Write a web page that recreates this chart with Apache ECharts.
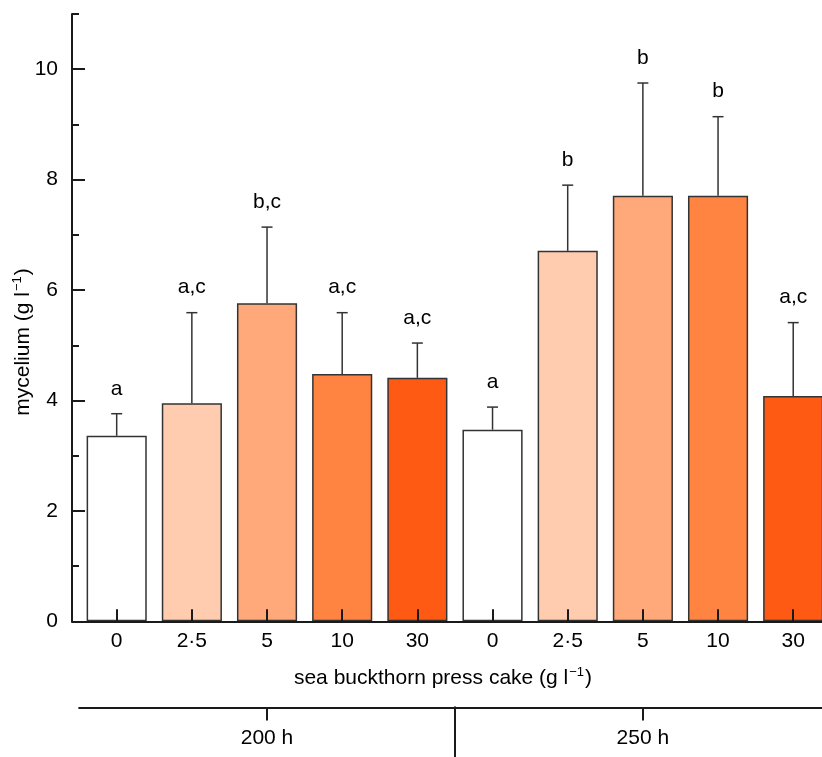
<!DOCTYPE html>
<html>
<head>
<meta charset="utf-8">
<script src="https://cdn.jsdelivr.net/npm/echarts@6/dist/echarts.min.js"></script>
<style>html,body{margin:0;padding:0;background:#fff}#c{width:822px;height:757px}</style>
</head>
<body>
<div id="c"></div>
<script>
// ---- data ----
var categories = ['0', '2·5', '5', '10', '30', '0', '2·5', '5', '10', '30'];
var means = [3.36, 3.95, 5.76, 4.48, 4.41, 3.47, 6.71, 7.71, 7.71, 4.08];
var sds = [0.40, 1.64, 1.38, 1.11, 0.63, 0.41, 1.19, 2.04, 1.43, 1.33];
var letters = ['a', 'a,c', 'b,c', 'a,c', 'a,c', 'a', 'b', 'b', 'b', 'a,c'];
var barColors = ['#FFFFFF', '#FFCCB0', '#FFA97A', '#FF8442', '#FF5A14',
                 '#FFFFFF', '#FFCCB0', '#FFA97A', '#FF8442', '#FF5A14'];
var groups = ['200 h', '250 h'];
var yTicks = [0, 2, 4, 6, 8, 10];
var yMinorTicks = [1, 3, 5, 7, 9, 11];
var yMax = 11;

var FONT = 'Liberation Sans, Arial, Helvetica, sans-serif';
var FS = 21;
var AX = '#1a1a1a';

var chart = echarts.init(document.getElementById('c'), null, {renderer: 'canvas'});

var barData = means.map(function (v, i) {
  return {value: v, itemStyle: {color: barColors[i]}};
});
var errData = means.map(function (v, i) { return [i, v, v + sds[i]]; });

var option = {
  backgroundColor: '#fff',
  animation: false,
  textStyle: {fontFamily: FONT},
  grid: [
    {left: 79.1, width: 751.7, top: 14, bottom: 135.7, outerBoundsMode: 'none', containLabel: false},
    {left: 72, right: 8, top: 14, bottom: 135.7, outerBoundsMode: 'none', containLabel: false},
    {left: 79.1, width: 751.7, top: 706.5, bottom: 49.5, outerBoundsMode: 'none', containLabel: false}
  ],
  xAxis: [
    {
      gridIndex: 0, type: 'category', data: categories, z: 5,
      axisLine: {show: true, lineStyle: {color: AX, width: 2}},
      axisTick: {show: true, inside: true, alignWithLabel: true, length: 12, lineStyle: {color: AX, width: 2}},
      axisLabel: {color: '#000', fontSize: FS, fontFamily: FONT, margin: 9, interval: 0},
      splitLine: {show: false}
    },
    {
      gridIndex: 1, type: 'value', min: 0, max: 1, position: 'bottom',
      axisLine: {show: true, lineStyle: {color: AX, width: 2}},
      axisTick: {show: false}, axisLabel: {show: false}, splitLine: {show: false},
      name: '{a|sea buckthorn press cake (g l}{s|−1}{a|)}',
      nameLocation: 'middle', nameGap: 45,
      nameTextStyle: {
        rich: {
          a: {fontSize: FS, fontFamily: FONT, color: '#000', lineHeight: 24},
          s: {fontSize: 13, fontFamily: FONT, color: '#000', verticalAlign: 'top', lineHeight: 24, padding: [0, 1, 0, 1]}
        }
      }
    },
    {
      gridIndex: 2, type: 'category', data: groups, position: 'bottom',
      axisLine: {show: true, lineStyle: {color: AX, width: 2}},
      axisTick: {show: true, alignWithLabel: true, length: 13, lineStyle: {color: AX, width: 2}},
      axisLabel: {color: '#000', fontSize: FS, fontFamily: FONT, margin: 20},
      splitLine: {show: false}
    },
    {
      gridIndex: 2, type: 'value', min: 0, max: 2, position: 'top',
      axisLine: {show: false},
      axisTick: {show: true, inside: true, length: 52, customValues: [1], lineStyle: {color: AX, width: 2}},
      axisLabel: {show: false}, splitLine: {show: false}
    }
  ],
  yAxis: [
    {
      gridIndex: 0, type: 'value', min: 0, max: yMax, position: 'left', offset: 7.1, z: 5,
      axisLine: {show: true, lineStyle: {color: AX, width: 2}},
      axisTick: {show: true, inside: true, length: 13, customValues: yTicks, lineStyle: {color: AX, width: 2}},
      axisLabel: {color: '#000', fontSize: FS, fontFamily: FONT, margin: 14, customValues: yTicks},
      splitLine: {show: false}
    },
    {
      gridIndex: 0, type: 'value', min: 0, max: yMax, position: 'left', offset: 7.1, z: 5,
      axisLine: {show: false},
      axisTick: {show: true, inside: true, length: 7, customValues: yMinorTicks, lineStyle: {color: AX, width: 2}},
      axisLabel: {show: false},
      splitLine: {show: false}
    },
    {gridIndex: 1, type: 'value', min: 0, max: 1, show: false},
    {gridIndex: 2, type: 'value', min: 0, max: 1, show: false}
  ],
  graphic: [
    {
      type: 'text', x: 23, y: 342, rotation: Math.PI / 2,
      style: {
        text: '{a|mycelium (g l}{s|−1}{a|)}',
        align: 'center', verticalAlign: 'middle',
        rich: {
          a: {fontSize: FS, fontFamily: FONT, fill: '#000', lineHeight: 24},
          s: {fontSize: 13, fontFamily: FONT, fill: '#000', verticalAlign: 'top', lineHeight: 24, padding: [0, 1, 0, 1]}
        }
      }
    }
  ],
  series: [
    {
      type: 'bar', xAxisIndex: 0, yAxisIndex: 0,
      data: barData, barWidth: '80%',
      itemStyle: {borderColor: '#333', borderWidth: 1.5}
    },
    {
      type: 'custom', xAxisIndex: 0, yAxisIndex: 0, z: 4,
      data: errData,
      encode: {x: 0, y: [1, 2]},
      renderItem: function (params, api) {
        var i = api.value(0), m = api.value(1), t = api.value(2);
        var p0 = api.coord([i, m]);
        var p1 = api.coord([i, t]);
        var half = 5.5;
        var st = {stroke: '#333', lineWidth: 1.5};
        return {
          type: 'group',
          children: [
            {type: 'line', shape: {x1: p0[0], y1: p0[1], x2: p1[0], y2: p1[1]}, style: st},
            {type: 'line', shape: {x1: p1[0] - half, y1: p1[1], x2: p1[0] + half, y2: p1[1]}, style: st},
            {type: 'text', x: p1[0], y: p1[1] - 25,
              style: {text: letters[params.dataIndex], fontSize: FS, fontFamily: FONT, fill: '#000',
                align: 'center', verticalAlign: 'middle'}}
          ]
        };
      }
    }
  ]
};
chart.setOption(option);
</script>
</body>
</html>
